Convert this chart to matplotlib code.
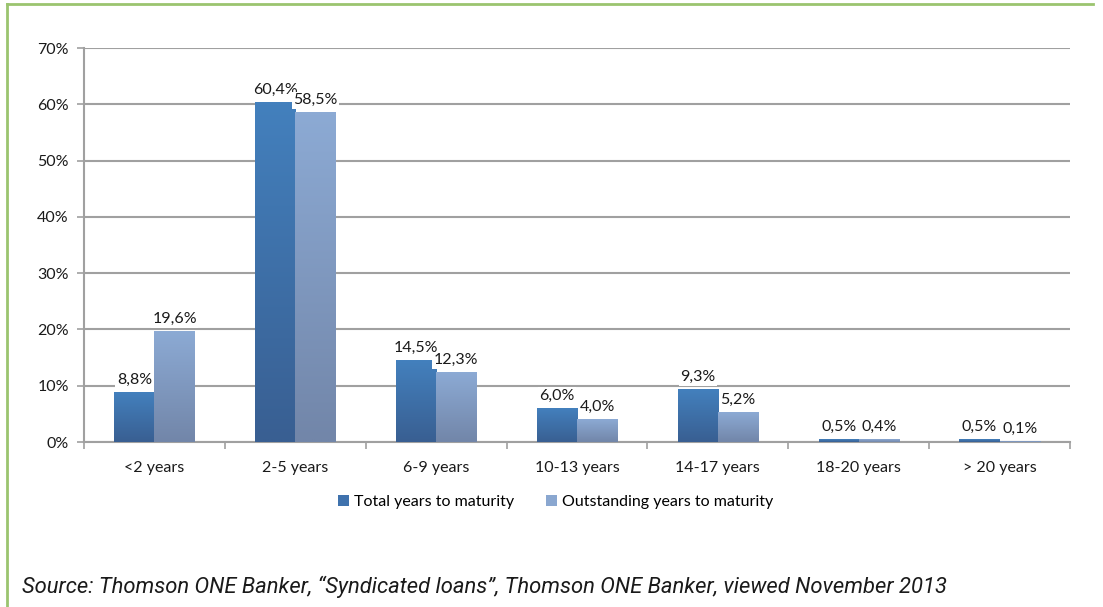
import matplotlib.pyplot as plt
import numpy as np
from matplotlib.lines import Line2D
from matplotlib.patches import Patch

categories = ['<2 years', '2-5 years', '6-9 years', '10-13 years', '14-17 years', '18-20 years', '> 20 years']
total_years = [8.8, 60.4, 14.5, 6.0, 9.3, 0.5, 0.5]
outstanding_years = [19.6, 58.5, 12.3, 4.0, 5.2, 0.4, 0.1]
series_names = ['Total years to maturity', 'Outstanding years to maturity']
source_text = u'Source: Thomson ONE Banker, \u201cSyndicated loans\u201d, Thomson ONE Banker, viewed November 2013'

plt.rcParams['font.family'] = ['Lato', 'DejaVu Sans']

fig = plt.figure(figsize=(11.03, 6.07), dpi=100)
ax = fig.add_axes([84/1103, 1-442/607, (1070-84)/1103, (442-48)/607])

x = np.arange(len(categories))
w = 0.285
grid_c = '#a0a0a0'
fs = 11.5

# gradient colours (top, bottom)
grads = [('#4380bd', '#395f92'), ('#8caad4', '#7286a9')]
solid = ['#3f72ad', '#8aa7d0']

ax.set_xlim(-0.5, len(categories) - 0.5)
ax.set_ylim(0, 70)

for s, (vals, off) in enumerate([(total_years, -w/2), (outstanding_years, w/2)]):
    bars = ax.bar(x + off, vals, width=w, color='none', edgecolor='none', zorder=3)
    top = np.array(plt.matplotlib.colors.to_rgb(grads[s][0]))
    bot = np.array(plt.matplotlib.colors.to_rgb(grads[s][1]))
    for b, v in zip(bars, vals):
        x0 = b.get_x()
        h = b.get_height()
        t = np.linspace(0, 1, 64)[:, None]
        img = (top * (1 - t) + bot * t)[:, None, :]
        ax.imshow(img, extent=[x0, x0 + b.get_width(), 0, h], aspect='auto',
                  zorder=3, interpolation='bilinear')
        ax.annotate(f'{v:.1f}%'.replace('.', ','), (x0 + b.get_width()/2, h),
                    xytext=(0, 4), textcoords='offset points', ha='center', va='bottom',
                    fontsize=fs, color='#1a1a1a', zorder=5,
                    bbox=dict(boxstyle='square,pad=0.1', fc='white', ec='none'))

ax.set_xlim(-0.5, len(categories) - 0.5)
ax.set_ylim(0, 70)

ax.set_yticks(np.arange(0, 71, 10))
ax.set_yticklabels([f'{v}%' for v in range(0, 71, 10)], fontsize=fs, color='#1a1a1a')
ax.yaxis.grid(True, color=grid_c, lw=1.5, zorder=0)
ax.set_axisbelow(True)

ax.set_xticks(x)
ax.set_xticklabels(categories, fontsize=fs, color='#1a1a1a')
ax.tick_params(axis='x', length=0, pad=14)
ax.set_xticks(np.arange(-0.5, len(categories)), minor=True)
ax.tick_params(axis='x', which='minor', length=5, color=grid_c, width=1.2)
ax.tick_params(axis='y', length=5, color=grid_c, width=1.2, pad=6)

for side in ['top', 'right']:
    ax.spines[side].set_visible(False)
for side in ['left', 'bottom']:
    ax.spines[side].set_color(grid_c)
    ax.spines[side].set_linewidth(1.5)

handles = [Patch(facecolor=c, edgecolor='none') for c in solid]
fig.legend(handles, series_names, loc='center', bbox_to_anchor=(556/1103, 1-502/607),
           ncol=2, frameon=False, fontsize=fs, handlelength=0.65, handleheight=0.65,
           handletextpad=0.35, columnspacing=2.0)

fig.text(22/1103, 1-593/607, source_text, fontsize=15.8, style='italic',
         color='#1a1a1a', family=['Roboto', 'DejaVu Sans'])

green = '#9bc46f'
fig.add_artist(Line2D([7/1103, 7/1103], [0, 1-4/607], color=green, lw=2))
fig.add_artist(Line2D([7/1103, 1093/1103], [1-4/607, 1-4/607], color=green, lw=2))

fig.savefig('out.png', dpi=100)
